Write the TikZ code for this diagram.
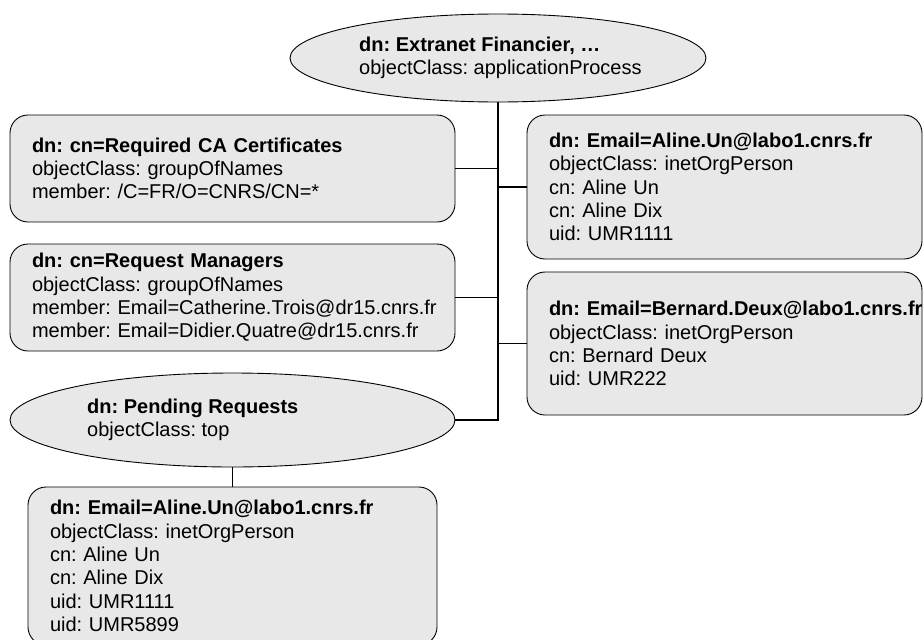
\documentclass[tikz,border=0pt]{standalone}
\usepackage{fontspec}
\setmainfont{Liberation Sans}
\usetikzlibrary{shapes.geometric}
\definecolor{entrygray}{HTML}{E8E8E8}
\frenchspacing
\begin{document}
\begin{tikzpicture}[x=1pt, y=-1pt, font=\fontsize{20}{23.3}\selectfont,
  entry/.style={draw, fill=entrygray, rounded corners=18pt, line width=0.9pt, align=left, inner xsep=22pt, inner ysep=0pt},
  dnode/.style={draw, fill=entrygray, ellipse, line width=0.9pt, inner sep=0pt},
  dtext/.style={anchor=west, align=left, inner sep=0pt},
  link/.style={line width=1.1pt}]
\clip (0,0) rectangle (924,640);
\node[dnode, minimum width=416pt, minimum height=88pt] (root) at (498,58){};
\node[dtext] (rootText) at (359,58){\textbf{dn: Extranet Financier, …}\\objectClass: applicationProcess};
\node[entry, text width=401pt, minimum height=107pt] (req) at (232.5,168.5){\textbf{dn: cn=Required CA Certificates}\\objectClass: groupOfNames\\member: /C=FR/O=CNRS/CN=*};
\node[entry, text width=401pt, minimum height=107pt] (mgr) at (232.5,297.5){\textbf{dn: cn=Request Managers}\\objectClass: groupOfNames\\member: Email=Catherine.Trois@dr15.cnrs.fr\\member: Email=Didier.Quatre@dr15.cnrs.fr};
\node[entry, text width=351pt, minimum height=144pt] (aline) at (724.5,187){\textbf{dn: Email=Aline.Un@labo1.cnrs.fr}\\objectClass: inetOrgPerson\\cn: Aline Un\\cn: Aline Dix\\uid: UMR1111};
\node[entry, text width=351pt, minimum height=143pt] (bernard) at (724.5,343.5){\textbf{dn: Email=Bernard.Deux@labo1.cnrs.fr}\\objectClass: inetOrgPerson\\cn: Bernard Deux\\uid: UMR222};
\node[dnode, minimum width=445pt, minimum height=94pt] (pend) at (232.5,420){};
\node[dtext] (pendText) at (87,420){\textbf{dn: Pending Requests}\\objectClass: top};
\node[entry, text width=365pt, minimum height=158pt] (pendAline) at (232.5,566){\textbf{dn: Email=Aline.Un@labo1.cnrs.fr}\\objectClass: inetOrgPerson\\cn: Aline Un\\cn: Aline Dix\\uid: UMR1111\\uid: UMR5899};
\draw[link](root.south) -- (root.south |- pend.east) -- (pend.east);
\draw[link](req.east) -- (req.east -| root.south);
\draw[link](mgr.east) -- (mgr.east -| root.south);
\draw[link](aline.west) -- (aline.west -| root.south);
\draw[link](bernard.west) -- (bernard.west -| root.south);
\draw[link](pend.south) -- (pend.south |- pendAline.north);
\end{tikzpicture}
\end{document}
